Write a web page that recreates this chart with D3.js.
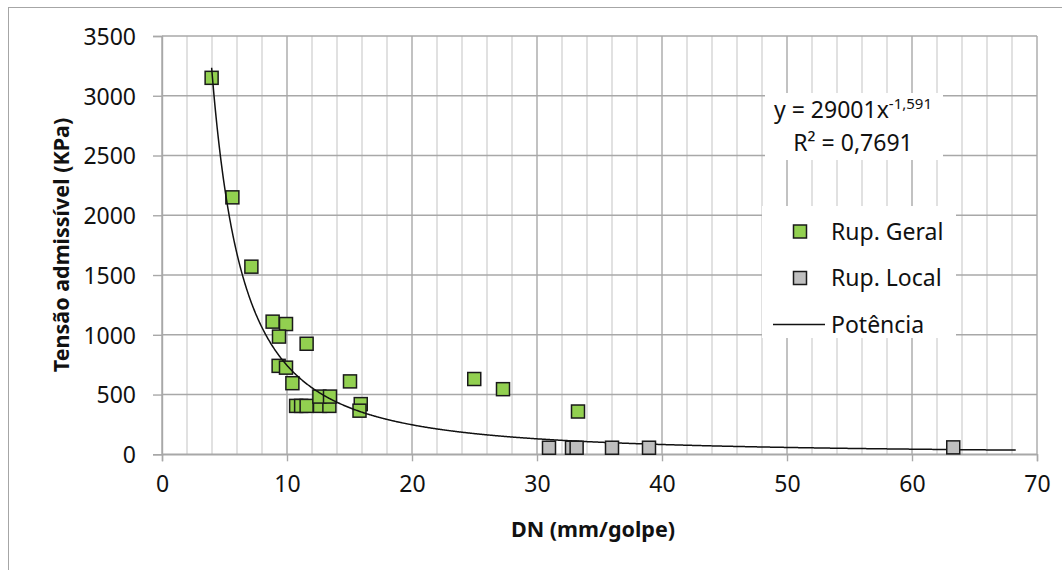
<!DOCTYPE html>
<html>
<head>
<meta charset="utf-8">
<script src="https://cdn.jsdelivr.net/npm/d3@7"></script>
<style>
  html, body { margin: 0; padding: 0; background: #fff; }
  svg { display: block; font-family: "Noto Sans", "Open Sans", sans-serif; }
</style>
</head>
<body>
<svg id="chart" width="1062" height="570"></svg>
<script>
// DN (mm/golpe) vs tensão admissível (kPa)
const geralDN      = [3.97, 5.63, 7.15, 8.85, 9.92, 9.36, 11.57, 9.33, 9.92, 10.43, 15.04,
                      10.73, 11.13, 11.57, 12.64, 13.39, 12.59, 13.44, 15.9, 15.8, 24.98, 27.28, 33.28];
const geralTensao  = [3150, 2150, 1570, 1110, 1090, 985, 925, 740, 725, 595, 610,
                      405, 405, 405, 405, 405, 483, 483, 420, 365, 630, 545, 358];
const localDN      = [30.96, 32.8, 33.17, 36.0, 38.96, 63.3];
const localTensao  = [55, 55, 55, 55, 55, 58];

// power trendline y = a·x^b
const trendCoef  = 29001;
const trendExp   = -1.591;
const trendR2    = "0,7691";
const trendRange = [3.97, 68.3];

const xTicks = [0, 10, 20, 30, 40, 50, 60, 70];
const yTicks = [0, 500, 1000, 1500, 2000, 2500, 3000, 3500];
const xMinorTicks = d3.range(0, 71, 2).filter(v => v % 10 !== 0);

const seriesNames = ["Rup. Geral", "Rup. Local", "Potência"];

const svg = d3.select("#chart");
const x = d3.scaleLinear().domain([0, 70]).range([162, 1037]);
const y = d3.scaleLinear().domain([0, 3500]).range([454.3, 36]);

// chart frame
svg.append("rect").attr("x", 8.5).attr("y", 7.5).attr("width", 1100).attr("height", 600)
  .attr("fill", "#fff").attr("stroke", "#a6a6a6").attr("stroke-width", 1);

const grid = svg.append("g");
grid.selectAll("line.minor").data(xMinorTicks).join("line")
  .attr("x1", d => x(d)).attr("x2", d => x(d)).attr("y1", y(3500)).attr("y2", y(0))
  .attr("stroke", "#d4d4d4").attr("stroke-width", 1.4);
grid.selectAll("line.hmaj").data(yTicks).join("line")
  .attr("x1", x(0)).attr("x2", x(70)).attr("y1", d => y(d)).attr("y2", d => y(d))
  .attr("stroke", "#a8a8a8").attr("stroke-width", 1.4);
grid.selectAll("line.vmaj").data(xTicks).join("line")
  .attr("x1", d => x(d)).attr("x2", d => x(d)).attr("y1", y(3500)).attr("y2", y(0))
  .attr("stroke", "#a8a8a8").attr("stroke-width", 1.4);

// axes
const xAxis = d3.axisBottom(x).tickValues(xTicks).tickSize(7).tickPadding(14).tickFormat(d3.format("d"));
const yAxis = d3.axisLeft(y).tickValues(yTicks).tickSize(9).tickPadding(17).tickFormat(d3.format("d"));

const gx = svg.append("g").attr("transform", `translate(0,${y(0)})`).call(xAxis);
const gy = svg.append("g").attr("transform", `translate(${x(0)},0)`).call(yAxis);
[gx, gy].forEach(g => {
  g.select(".domain").attr("stroke", "#a8a8a8").attr("stroke-width", 1.4);
  g.selectAll(".tick line").attr("stroke", "#a8a8a8").attr("stroke-width", 1.4);
  g.selectAll(".tick text").attr("fill", "#111").attr("font-size", 23)
    .attr("font-family", "'Noto Sans', sans-serif");
});
gy.selectAll(".tick text").attr("dy", "0.36em");

// axis titles
svg.append("text").attr("x", 593).attr("y", 537).attr("text-anchor", "middle")
  .attr("font-size", 21.5).attr("font-weight", "bold").attr("fill", "#111")
  .text("DN (mm/golpe)");
svg.append("text").attr("transform", `translate(69,245) rotate(-90)`).attr("text-anchor", "middle")
  .attr("font-size", 21.5).attr("font-weight", "bold").attr("fill", "#111")
  .text("Tensão admissível (KPa)");

const S = 13;
const geral = geralDN.map((d, i) => ({ dn: d, t: geralTensao[i] }));
const local = localDN.map((d, i) => ({ dn: d, t: localTensao[i] }));

svg.append("g").selectAll("rect").data(geral).join("rect")
  .attr("x", d => x(d.dn) - S / 2).attr("y", d => y(d.t) - S / 2)
  .attr("width", S).attr("height", S)
  .attr("fill", "#92d050").attr("stroke", "#1a1a1a").attr("stroke-width", 1.5);

// trendline
const trend = d3.range(trendRange[0], trendRange[1], 0.05).concat([trendRange[1]])
  .map(v => [v, trendCoef * Math.pow(v, trendExp)]);
svg.append("path").datum(trend)
  .attr("d", d3.line().x(d => x(d[0])).y(d => y(d[1])).curve(d3.curveLinear))
  .attr("fill", "none").attr("stroke", "#111").attr("stroke-width", 1.5);

svg.append("g").selectAll("rect").data(local).join("rect")
  .attr("x", d => x(d.dn) - S / 2).attr("y", d => y(d.t) - S / 2)
  .attr("width", S).attr("height", S)
  .attr("fill", "#bfbfbf").attr("stroke", "#1a1a1a").attr("stroke-width", 1.5);

// trendline equation
const eq = svg.append("g");
eq.append("rect").attr("x", 765).attr("y", 93).attr("width", 178).attr("height", 67).attr("fill", "#fff");
const eqText = eq.append("text").attr("x", 853).attr("y", 118).attr("text-anchor", "middle")
  .attr("font-size", 23).attr("fill", "#111");
eqText.append("tspan").text(`y = ${trendCoef}x`);
eqText.append("tspan").attr("dy", -9).attr("font-size", 15)
  .text(String(trendExp).replace(".", ","));
const r2 = eq.append("text").attr("x", 853).attr("y", 151).attr("text-anchor", "middle")
  .attr("font-size", 23).attr("fill", "#111");
r2.text(`R² = ${trendR2}`);

// legend
const lg = svg.append("g");
lg.append("rect").attr("x", 762).attr("y", 206).attr("width", 194).attr("height", 132).attr("fill", "#fff");
const rows = [
  { name: seriesNames[0], fill: "#92d050", cy: 231.5 },
  { name: seriesNames[1], fill: "#bfbfbf", cy: 278 },
];
rows.forEach(r => {
  lg.append("rect").attr("x", 800 - S / 2).attr("y", r.cy - S / 2).attr("width", S).attr("height", S)
    .attr("fill", r.fill).attr("stroke", "#1a1a1a").attr("stroke-width", 1.5);
  lg.append("text").attr("x", 831).attr("y", r.cy).attr("dy", "0.36em")
    .attr("font-size", 23).attr("fill", "#111").text(r.name);
});
lg.append("line").attr("x1", 773).attr("x2", 825).attr("y1", 324.5).attr("y2", 324.5)
  .attr("stroke", "#111").attr("stroke-width", 1.5);
lg.append("text").attr("x", 831).attr("y", 324.5).attr("dy", "0.36em")
  .attr("font-size", 23).attr("fill", "#111").text(seriesNames[2]);
</script>
</body>
</html>
